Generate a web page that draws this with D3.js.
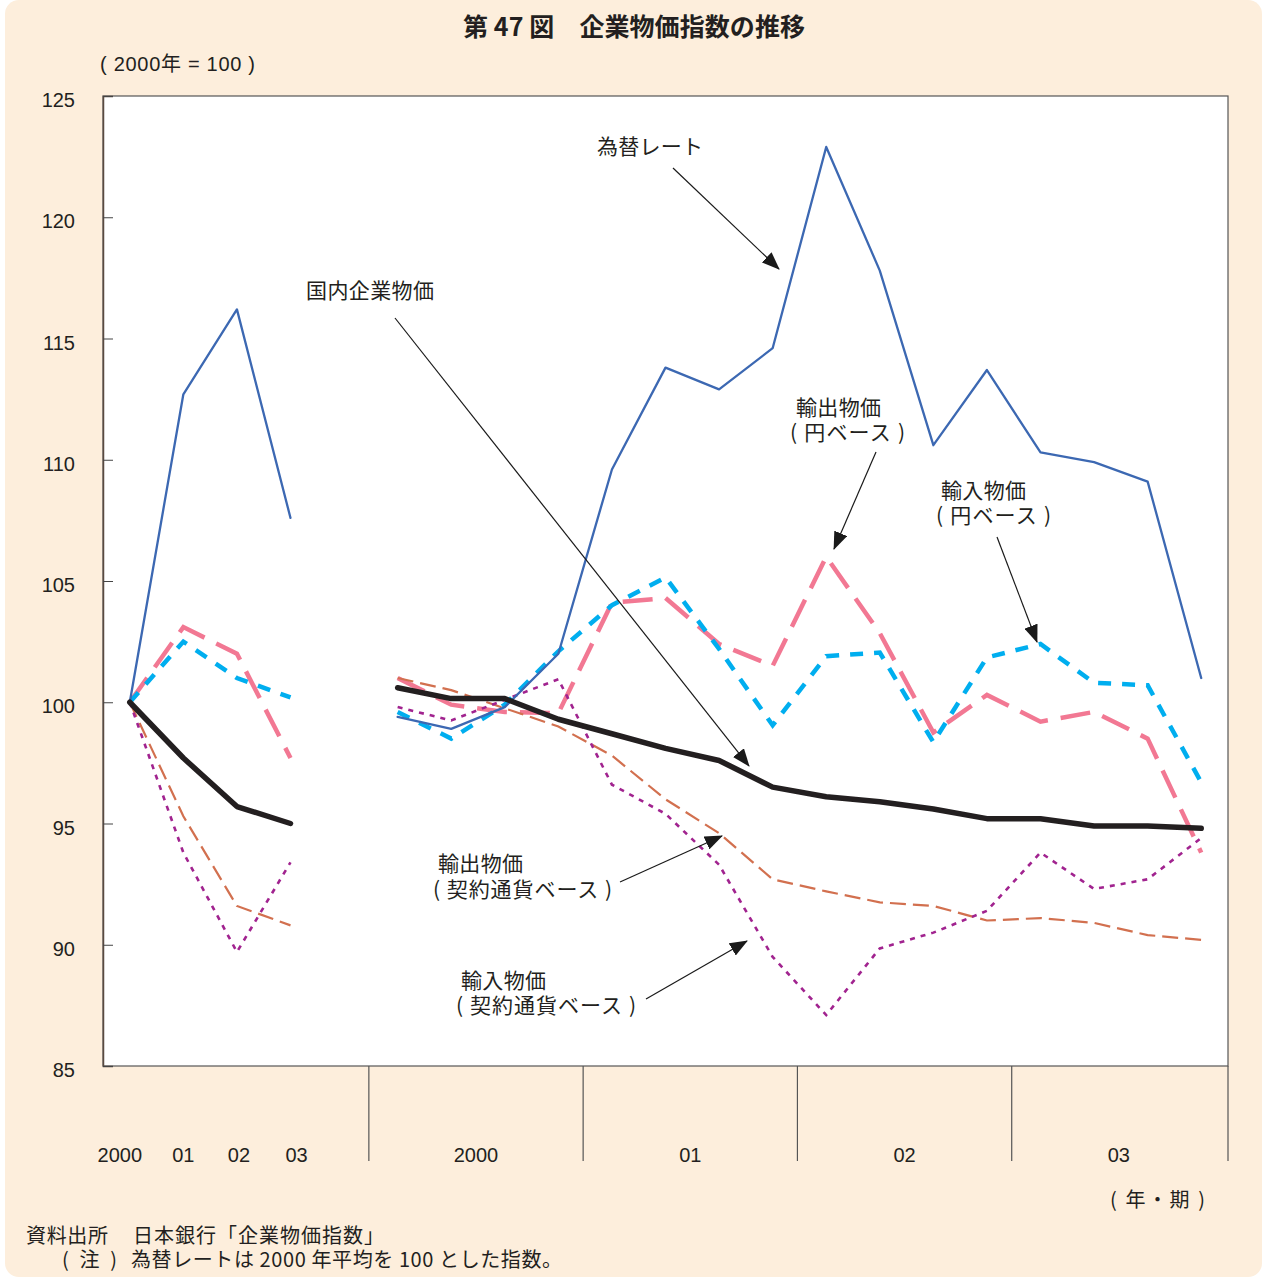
<!DOCTYPE html>
<html><head><meta charset="utf-8">
<script src="https://cdn.jsdelivr.net/npm/d3@7"></script>
<style>
html,body{margin:0;padding:0;background:#fff;}
svg{display:block;}
</style></head>
<body>
<script>
// ---- data ----
const annualLabels = ["2000", "01", "02", "03"];
const quarterYears = ["2000", "01", "02", "03"];
const yTicks = [85, 90, 95, 100, 105, 110, 115, 120, 125];

// annual values (2000, 01, 02, 03) and quarterly values (2000Q1 ... 2003Q4)
const fxAnnual = [100, 112.7, 116.2, 107.6];
const fxQuarterly = [99.4, 98.9, 99.8, 102.0, 109.6, 113.8, 112.9, 114.6, 122.9, 117.8, 110.6, 113.7, 110.3, 109.9, 109.1, 101.0];

const domesticAnnual = [100, 97.7, 95.7, 95.0];
const domesticQuarterly = [100.6, 100.15, 100.15, 99.3, 98.7, 98.1, 97.6, 96.5, 96.1, 95.9, 95.6, 95.2, 95.2, 94.9, 94.9, 94.8];

const exportYenAnnual = [100, 103.1, 102.0, 97.7];
const exportYenQuarterly = [101.0, 99.9, 99.6, 99.55, 104.1, 104.3, 102.4, 101.5, 106.0, 102.85, 98.75, 100.3, 99.2, 99.6, 98.5, 93.8];

const importYenAnnual = [100, 102.5, 101.0, 100.2];
const importYenQuarterly = [99.6, 98.5, 99.9, 102.1, 104.0, 105.15, 102.2, 99.05, 101.9, 102.05, 98.35, 101.85, 102.4, 100.8, 100.7, 96.7];

const exportContractAnnual = [100, 95.3, 91.6, 90.8];
const exportContractQuarterly = [101.0, 100.5, 99.75, 99.0, 97.8, 96.0, 94.6, 92.7, 92.2, 91.75, 91.6, 91.0, 91.1, 90.9, 90.4, 90.2];

const importContractAnnual = [100, 93.8, 89.7, 93.4];
const importContractQuarterly = [99.8, 99.25, 100.1, 100.95, 96.6, 95.4, 93.3, 89.5, 87.1, 89.85, 90.5, 91.4, 93.8, 92.3, 92.7, 94.4];

// ---- layout ----
const W = 1264, H = 1278;
const plot = {left: 103, right: 1228, top: 96, bottom: 1066};
const nSlots = 21; // 4 annual + 1 gap + 16 quarters
const qStart = 5;

const svg = d3.select("body").append("svg").attr("width", W).attr("height", H);
const FONT = "'Liberation Sans', Arial, 'Noto Sans CJK JP', sans-serif";
const JFONT = "'Noto Sans CJK JP', 'Liberation Sans', sans-serif";
const TXT = "#231f20";

svg.append("rect").attr("x", 5).attr("y", 0).attr("width", 1257).attr("height", 1277)
  .attr("rx", 14).attr("fill", "#fdeedc");

svg.append("rect").attr("x", plot.left).attr("y", plot.top)
  .attr("width", plot.right - plot.left).attr("height", plot.bottom - plot.top)
  .attr("fill", "#fff");

const x = d3.scaleBand().domain(d3.range(nSlots)).range([plot.left, plot.right]).padding(0);
const cx = i => x(i) + x.bandwidth() / 2;
const y = d3.scaleLinear().domain([85, 125]).range([plot.bottom, plot.top]);

// frame
svg.append("rect").attr("x", plot.left).attr("y", plot.top)
  .attr("width", plot.right - plot.left).attr("height", plot.bottom - plot.top)
  .attr("fill", "none").attr("stroke", "#555").attr("stroke-width", 1.2);

// y axis
const yAxis = d3.axisLeft(y).tickValues(yTicks).tickSize(-10).tickPadding(28);
const gy = svg.append("g").attr("transform", `translate(${plot.left},0)`).call(yAxis);
gy.select(".domain").attr("stroke", "#5a4a40").attr("stroke-width", 1.5);
gy.selectAll(".tick line").attr("stroke", "#444");
gy.selectAll(".tick text").attr("font-family", FONT).attr("font-size", 20)
  .attr("fill", TXT).attr("dy", "0.38em").attr("y", 3);

// bottom separators
const sepSlots = [qStart, qStart + 4, qStart + 8, qStart + 12, nSlots];
svg.append("g").selectAll("line").data(sepSlots).join("line")
  .attr("x1", d => d === nSlots ? plot.right : x(d) - 2)
  .attr("x2", d => d === nSlots ? plot.right : x(d) - 2)
  .attr("y1", plot.bottom).attr("y2", 1161)
  .attr("stroke", "#555").attr("stroke-width", 1.2);

// x labels
const xl = svg.append("g").attr("font-family", FONT).attr("font-size", 20).attr("fill", TXT)
  .attr("text-anchor", "middle");
xl.selectAll("text.a").data(annualLabels).join("text").attr("class", "a")
  .attr("x", (d, i) => cx(i) + (i === 0 ? -10 : i === 3 ? 6 : i === 2 ? 2 : 0)).attr("y", 1162).text(d => d);
xl.selectAll("text.q").data(quarterYears).join("text").attr("class", "q")
  .attr("x", (d, i) => (x(qStart + i * 4) + (i === 3 ? plot.right : x(qStart + i * 4 + 4))) / 2 - 2)
  .attr("y", 1162).text(d => d);

// ---- series ----
const series = [
  {a: exportYenAnnual, q: exportYenQuarterly, color: "#f27893", w: 4.5, dash: "30,13"},
  {a: importYenAnnual, q: importYenQuarterly, color: "#00aeef", w: 4.5, dash: "13,11"},
  {a: exportContractAnnual, q: exportContractQuarterly, color: "#d2704f", w: 2.2, dash: "16,7"},
  {a: importContractAnnual, q: importContractQuarterly, color: "#a1238f", w: 2.6, dash: "5,6"},
  {a: fxAnnual, q: fxQuarterly, color: "#3c68b2", w: 2.3, dash: null},
  {a: domesticAnnual, q: domesticQuarterly, color: "#231f20", w: 5.5, dash: null},
];
const line = d3.line().x(d => cx(d.i)).y(d => y(d.v));
const gl = svg.append("g");
series.forEach(s => {
  const parts = [
    s.a.map((v, i) => ({i, v})),
    s.q.map((v, i) => ({i: qStart + i, v}))
  ];
  parts.forEach(p => {
    gl.append("path").attr("d", line(p)).attr("fill", "none")
      .attr("stroke", s.color).attr("stroke-width", s.w)
      .attr("stroke-dasharray", s.dash)
      .attr("stroke-linejoin", s.dash ? "miter" : "round")
      .attr("stroke-linecap", s.dash ? "butt" : "round");
  });
});

// ---- annotations ----
const defs = svg.append("defs");
defs.append("marker").attr("id", "arr").attr("markerUnits", "userSpaceOnUse")
  .attr("viewBox", "0 0 18 14").attr("refX", 17).attr("refY", 7)
  .attr("markerWidth", 18).attr("markerHeight", 14).attr("orient", "auto")
  .append("path").attr("d", "M0,0 L18,7 L0,14 Z").attr("fill", "#1a1a1a");

const annotations = [
  {lines: [{t: "為替レート", x: 597, y: 146, len: 106}], from: [673, 168], to: [779, 269]},
  {lines: [{t: "国内企業物価", x: 306, y: 290, len: 128}], from: [395, 318], to: [749, 766]},
  {lines: [{t: "輸出物価", x: 796, y: 407, len: 85}, {t: "( 円ベース )", x: 790, y: 432, len: 115}], from: [876, 452], to: [834, 549]},
  {lines: [{t: "輸入物価", x: 941, y: 490, len: 85}, {t: "( 円ベース )", x: 936, y: 515, len: 115}], from: [997, 537], to: [1037, 642]},
  {lines: [{t: "輸出物価", x: 438, y: 863, len: 85}, {t: "( 契約通貨ベース )", x: 433, y: 889, len: 179}], from: [620, 882], to: [722, 836]},
  {lines: [{t: "輸入物価", x: 461, y: 980, len: 85}, {t: "( 契約通貨ベース )", x: 456, y: 1005, len: 180}], from: [646, 999], to: [747, 941]},
];
const ga = svg.append("g");
annotations.forEach(a => {
  const t = ga.append("text").attr("font-family", JFONT).attr("font-size", 21).attr("fill", TXT)
    .style("white-space", "pre");
  a.lines.forEach(l => {
    t.append("tspan").attr("x", l.x).attr("y", l.y).attr("dy", "0.36em")
      .attr("textLength", l.len).attr("lengthAdjust", "spacing").text(l.t);
  });
  ga.append("line").attr("x1", a.from[0]).attr("y1", a.from[1])
    .attr("x2", a.to[0]).attr("y2", a.to[1])
    .attr("stroke", "#1a1a1a").attr("stroke-width", 1.2).attr("marker-end", "url(#arr)");
});

// ---- titles / notes ----
function label(tx, px, py, len, opts = {}) {
  const t = svg.append("text").attr("x", px).attr("y", py).attr("dy", "0.36em")
    .attr("font-family", opts.font || JFONT).attr("font-size", opts.size || 20)
    .attr("font-weight", opts.weight || "normal").attr("fill", TXT)
    .style("white-space", "pre").text(tx);
  if (len) t.attr("textLength", len).attr("lengthAdjust", "spacing");
  return t;
}
label("第 47 図　企業物価指数の推移", 463, 27, 342, {size: 25, weight: "bold"});
label("( 2000年 = 100 )", 100, 64, 155, {font: FONT});
label("( 年・期 )", 1110, 1200, 95);
label("資料出所", 26, 1236, 82);
label("日本銀行「企業物価指数」", 133, 1236, 251);
label("( 注 )", 62, 1260, 55);
label("為替レートは 2000 年平均を 100 とした指数。", 131, 1260, 431);
</script>
</body></html>
